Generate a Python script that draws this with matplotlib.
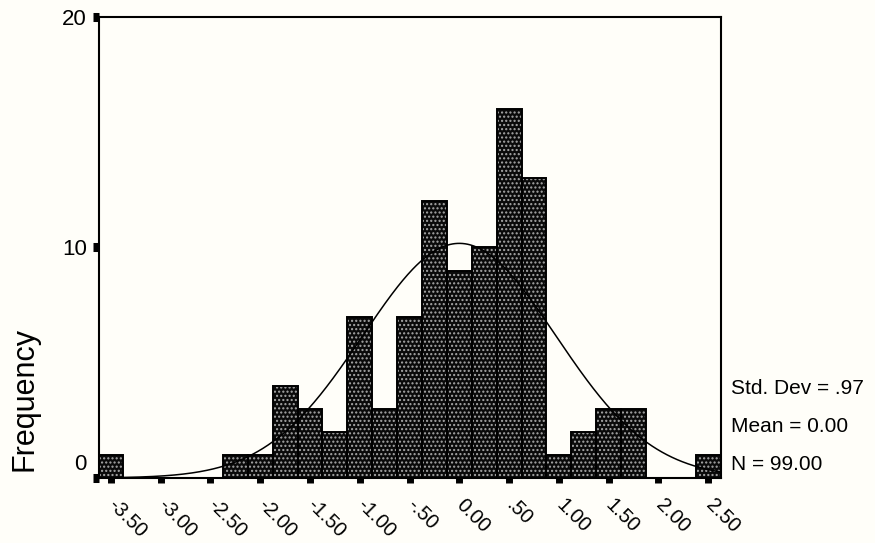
import numpy as np
import matplotlib
matplotlib.use("Agg")
import matplotlib.pyplot as plt
from matplotlib.transforms import ScaledTranslation

plt.rcParams["font.family"] = ["Liberation Sans", "DejaVu Sans"]
plt.rcParams["hatch.linewidth"] = 1.0

# Histogram of standardized values (bin width 0.25, bins centred on multiples of 0.25)
bin_centers = [-3.50, -3.25, -3.00, -2.75, -2.50, -2.25, -2.00, -1.75, -1.50,
               -1.25, -1.00, -0.75, -0.50, -0.25, 0.00, 0.25, 0.50, 0.75,
               1.00, 1.25, 1.50, 1.75, 2.00, 2.25, 2.50]
counts = [1, 0, 0, 0, 0, 1, 1, 4, 3,
          2, 7, 3, 7, 12, 9, 10, 16, 13,
          1, 2, 3, 3, 0, 0, 1]
bin_width = 0.25

x_ticks = [-3.50, -3.00, -2.50, -2.00, -1.50, -1.00, -0.50, 0.00, 0.50,
           1.00, 1.50, 2.00, 2.50]
x_tick_labels = ["-3.50", "-3.00", "-2.50", "-2.00", "-1.50", "-1.00", "-.50",
                 "0.00", ".50", "1.00", "1.50", "2.00", "2.50"]
y_ticks = [0, 10, 20]

std_dev = 0.97
mean = 0.00
n_cases = 99.00

fig = plt.figure(figsize=(8.75, 5.43), dpi=100)
bg = "#fffef9"
fig.patch.set_facecolor(bg)
ax = fig.add_axes([0.1126, 0.1197, 0.7109, 0.849])
ax.set_facecolor(bg)

# dotted bar fill: dark face with light dot hatch, then black outline
ax.bar(bin_centers, counts, width=bin_width, facecolor="#0a0a0a",
       edgecolor="#a8a8a8", hatch="....", linewidth=0, zorder=2)
ax.bar(bin_centers, counts, width=bin_width, fill=False,
       edgecolor="black", linewidth=1.4, zorder=3)

# fitted normal curve
xs = np.linspace(-3.625, 2.625, 500)
pdf = np.exp(-0.5 * ((xs - mean) / std_dev) ** 2) / (std_dev * np.sqrt(2 * np.pi))
ax.plot(xs, n_cases * bin_width * pdf, color="black", linewidth=1.1, zorder=4)

ax.set_xlim(-3.625, 2.625)
ax.set_ylim(0, 20)

for s in ax.spines.values():
    s.set_linewidth(1.5)
    s.set_color("black")

ax.set_yticks(y_ticks)
ax.set_yticklabels([str(v) for v in y_ticks], fontsize=16)
ax.tick_params(axis="y", direction="out", length=4.5, width=6.5, pad=4,
               color="black")
# lift the zero label clear of the rotated x labels
zero_lab = ax.get_yticklabels()[0]
zero_lab.set_transform(zero_lab.get_transform()
                       + ScaledTranslation(0, 0.16, fig.dpi_scale_trans))

ax.set_xticks(x_ticks)
ax.set_xticklabels(x_tick_labels, fontsize=14.5)
ax.tick_params(axis="x", direction="out", length=3.5, width=5, pad=9,
               color="black")
offset = ScaledTranslation(0.07, 0, fig.dpi_scale_trans)
for lab in ax.get_xticklabels():
    lab.set_rotation(-45)
    lab.set_rotation_mode("anchor")
    lab.set_ha("left")
    lab.set_va("top")
    lab.set_transform(lab.get_transform() + offset)

fig.text(24 / 875, 1 - 399 / 543, "Frequency", rotation=90, fontsize=22,
         ha="center", va="center")

stats = ["Std. Dev = .97", "Mean = 0.00", "N = 99.00"]
for i, line in enumerate(stats):
    fig.text(731 / 875, 1 - (388 + 38.5 * i) / 543, line, fontsize=15,
             ha="left", va="center")

fig.savefig("out.png", dpi=100, facecolor=bg)
